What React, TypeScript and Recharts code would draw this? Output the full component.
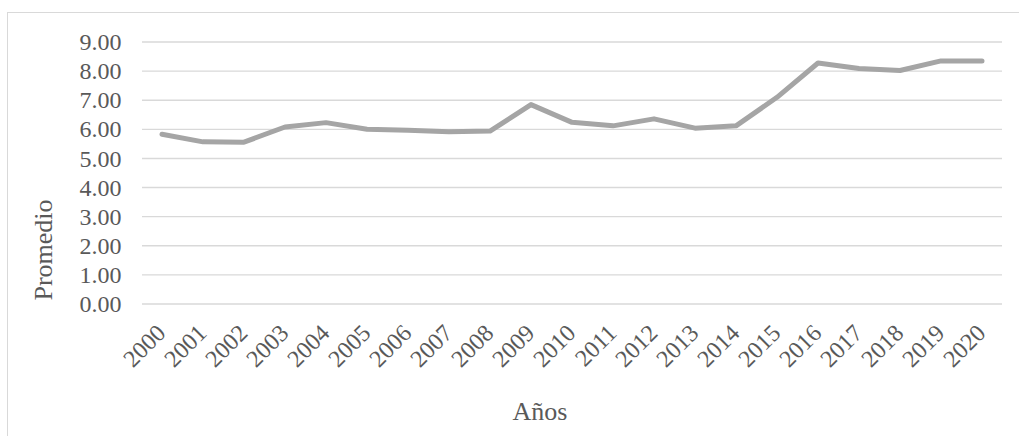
import React from "react";
import { LineChart, Line, XAxis, YAxis, CartesianGrid } from "recharts";

const years = ["2000","2001","2002","2003","2004","2005","2006","2007","2008","2009","2010","2011","2012","2013","2014","2015","2016","2017","2018","2019","2020"];
const promedio = [5.83,5.57,5.56,6.08,6.23,6.0,5.97,5.92,5.94,6.85,6.24,6.12,6.36,6.04,6.12,7.1,8.28,8.09,8.02,8.35,8.35];
const yTicks = [0,1,2,3,4,5,6,7,8,9];

const data = years.map((y, i) => ({ year: y, value: promedio[i] }));

const FONT = '"Liberation Serif", "Times New Roman", serif';
const TEXT = "#595959";

const XTick = (props: any) => {
  const { x, payload } = props;
  const tx = x + 5;
  const ty = 334.5;
  return (
    <text x={tx} y={ty} transform={`rotate(-45, ${tx}, ${ty})`} textAnchor="end" fontFamily={FONT} fontSize={24} fill={TEXT}>
      {payload.value}
    </text>
  );
};

const YTick = (props: any) => {
  const { y, payload } = props;
  return (
    <text x={121.5} y={y} dy="0.34em" textAnchor="end" fontFamily={FONT} fontSize={24} fill={TEXT}>
      {Number(payload.value).toFixed(2)}
    </text>
  );
};

export default function App() {
  return (
    <div style={{ position: "absolute", left: 0, top: 0, width: 1019, height: 436, background: "#fff" }}>
      <div style={{ position: "absolute", left: 7, top: 12, width: 1012, height: 424, borderTop: "1.3px solid #d9d9d9", borderLeft: "1.3px solid #d9d9d9", boxSizing: "border-box" }} />
      <div style={{ position: "absolute", left: 0, top: 0 }}>
        <LineChart width={1019} height={436} data={data} margin={{ top: 42, right: 17, bottom: 0, left: 0 }}>
          <CartesianGrid vertical={false} stroke="#d9d9d9" strokeWidth={1.4} />
          <XAxis
            dataKey="year"
            height={132}
            axisLine={false}
            tickLine={false}
            interval={0}
            padding={{ left: 20, right: 20 }}
            tick={<XTick />}
            label={(p: any) => (
              <text x={540} y={420} textAnchor="middle" fontFamily={FONT} fontSize={26} fill={TEXT}>Años</text>
            )}
          />
          <YAxis
            width={142}
            domain={[0, 9]}
            ticks={yTicks}
            axisLine={false}
            tickLine={false}
            tick={<YTick />}
            label={(p: any) => (
              <text x={43} y={250} transform="rotate(-90, 43, 250)" dy="0.34em" textAnchor="middle" fontFamily={FONT} fontSize={26} fill={TEXT}>Promedio</text>
            )}
          />
          <Line type="linear" dataKey="value" stroke="#a5a5a5" strokeWidth={5} dot={false} strokeLinecap="round" strokeLinejoin="round" isAnimationActive={false} />
        </LineChart>
      </div>
    </div>
  );
}
